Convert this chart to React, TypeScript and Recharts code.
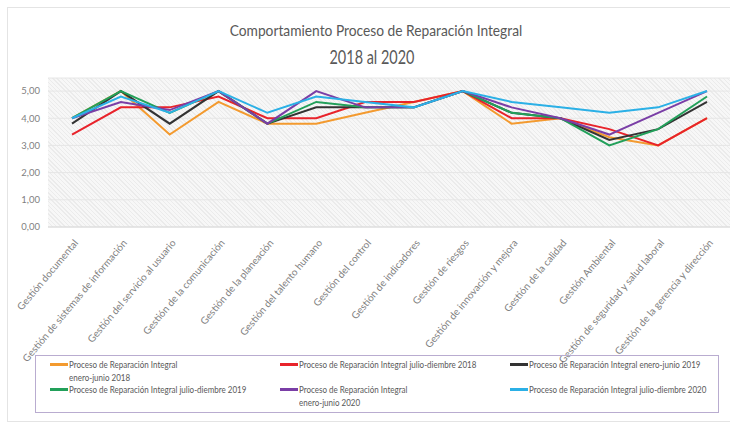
import { LineChart, Line, XAxis, YAxis, CartesianGrid } from 'recharts';

const FONT = "Lato, 'Open Sans', sans-serif";

const categories = [
    'Gestión documental',
    'Gestión de sistemas de información',
    'Gestión del servicio al usuario',
    'Gestión de la comunicación',
    'Gestión de la planeación',
    'Gestión del talento humano',
    'Gestión del control',
    'Gestión de indicadores',
    'Gestión de riesgos',
    'Gestión de innovación y mejora',
    'Gestión de la calidad',
    'Gestión Ambiental',
    'Gestión de seguridad y salud laboral',
    'Gestión de la gerencia y dirección',
];

const enJun2018 = [4.0, 5.0, 3.4, 4.6, 3.8, 3.8, 4.2, 4.6, 5.0, 3.8, 4.0, 3.3, 3.0, 4.0];
const julDic2018 = [3.4, 4.4, 4.4, 4.8, 4.0, 4.0, 4.6, 4.6, 5.0, 4.0, 4.0, 3.6, 3.0, 4.0];
const enJun2019 = [3.8, 5.0, 3.8, 5.0, 3.8, 4.4, 4.4, 4.4, 5.0, 4.2, 4.0, 3.2, 3.6, 4.6];
const julDic2019 = [4.0, 5.0, 4.2, 5.0, 3.8, 4.6, 4.4, 4.4, 5.0, 4.2, 4.0, 3.0, 3.6, 4.8];
const enJun2020 = [4.0, 4.6, 4.3, 5.0, 3.8, 5.0, 4.4, 4.4, 5.0, 4.4, 4.0, 3.4, 4.2, 5.0];
const julDic2020 = [4.0, 4.8, 4.2, 5.0, 4.2, 4.8, 4.6, 4.4, 5.0, 4.6, 4.4, 4.2, 4.4, 5.0];

const yTicks = [0, 1, 2, 3, 4, 5];

const series = [
    { key: 's1', name: 'Proceso de Reparación Integral\nenero-junio 2018', values: enJun2018, color: '#F39A2F' },
    { key: 's2', name: 'Proceso de Reparación Integral julio-diembre 2018', values: julDic2018, color: '#E8232B' },
    { key: 's3', name: 'Proceso de Reparación Integral enero-junio 2019', values: enJun2019, color: '#333333' },
    { key: 's4', name: 'Proceso de Reparación Integral julio-diembre 2019', values: julDic2019, color: '#22A05A' },
    { key: 's5', name: 'Proceso de Reparación Integral\nenero-junio 2020', values: enJun2020, color: '#7A3EA6' },
    { key: 's6', name: 'Proceso de Reparación Integral julio-diembre 2020', values: julDic2020, color: '#2BB0E6' },
];

const data = categories.map((name, i) => {
    const row: any = { name };
    series.forEach(s => { row[s.key] = s.values[i]; });
    return row;
});

const legendCols = [50, 280, 510];
const legendRows = [358, 383];

const XTick = ({ x, y, payload }: any) => (
    <g transform={`translate(${x + 4},${y + 6})`}>
        <text
            transform="rotate(-50)"
            textAnchor="end"
            dy="0.35em"
            fontSize={10}
            fill="#7f7f7f"
            fontFamily={FONT}
        >
            {payload.value}
        </text>
    </g>
);

const App = () => {
    return (
        <div style={{ position: 'absolute', left: 0, top: 0, width: 730, height: 425, overflow: 'hidden', background: '#fff', fontFamily: FONT }}>
            <div style={{ position: 'absolute', left: 7, top: 7, width: 760, height: 413, border: '1px solid #e4e4e4' }} />
            <div style={{ position: 'absolute', left: 0, top: 19, width: 752, textAlign: 'center', color: '#595959', fontSize: 16, lineHeight: '22px', transform: 'scaleX(0.86)', transformOrigin: '376px 0' }}>
                Comportamiento Proceso de Reparación Integral
            </div>
            <div style={{ position: 'absolute', left: 0, top: 44, width: 744, textAlign: 'center', color: '#595959', fontSize: 19, lineHeight: '26px', transform: 'scaleX(0.76)', transformOrigin: '372px 0' }}>
                2018 al 2020
            </div>
            <div
                style={{
                    position: 'absolute', left: 48, top: 78, width: 683, height: 149,
                    background: 'repeating-linear-gradient(45deg, #ebebeb 0px, #ebebeb 1px, #f7f7f7 1px, #f7f7f7 3px)',
                }}
            />
            <LineChart
                width={730}
                height={425}
                data={data}
                margin={{ top: 78, right: -1, left: 0, bottom: 68 }}
                style={{ position: 'absolute', left: 0, top: 0 }}
            >
                <CartesianGrid vertical={false} stroke="#e6e6e6" />
                <XAxis
                    dataKey="name"
                    interval={0}
                    height={130}
                    padding={{ left: 24, right: 24 }}
                    tick={<XTick />}
                    tickLine={false}
                    axisLine={{ stroke: '#d9d9d9' }}
                />
                <YAxis
                    width={48}
                    domain={[0, 5.48]}
                    ticks={yTicks}
                    tickFormatter={(v: number) => v.toFixed(2).replace('.', ',')}
                    tick={{ fontSize: 9.5, fill: '#7f7f7f', fontFamily: FONT }}
                    tickLine={false}
                    axisLine={false}
                />
                {series.map(s => (
                    <Line
                        key={s.key}
                        type="linear"
                        dataKey={s.key}
                        name={s.name}
                        stroke={s.color}
                        strokeWidth={2}
                        dot={false}
                        isAnimationActive={false}
                    />
                ))}
            </LineChart>
            <div style={{ position: 'absolute', left: 35, top: 355, width: 682, height: 56, border: '1px solid #b9acd0' }} />
            {series.map((s, i) => {
                const lines = s.name.split('\n');
                return (
                    <div
                        key={s.key}
                        style={{
                            position: 'absolute',
                            left: legendCols[i % 3],
                            top: legendRows[Math.floor(i / 3)],
                            display: 'flex',
                            alignItems: 'flex-start',
                            fontSize: 10,
                            lineHeight: '12.5px',
                            color: '#595959',
                            whiteSpace: 'nowrap',
                        }}
                    >
                        <div style={{ width: 18, height: 2.5, background: s.color, marginTop: 5, marginRight: 1, flexShrink: 0 }} />
                        <div style={{ transform: 'scaleX(0.8)', transformOrigin: '0 0' }}>
                            {lines.map((l, j) => (
                                <div key={j}>{l}</div>
                            ))}
                        </div>
                    </div>
                );
            })}
        </div>
    );
};

export default App;
